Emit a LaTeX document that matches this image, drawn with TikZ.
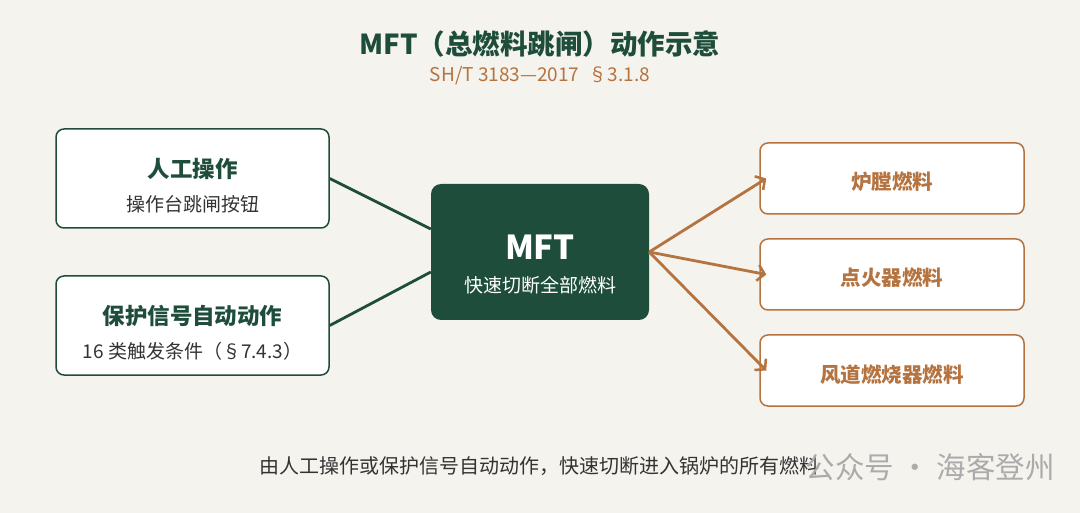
\documentclass[tikz,border=0pt]{standalone}
\usepackage{fontspec}
\setmainfont{Noto Sans CJK SC}
\usetikzlibrary{arrows.meta}
\definecolor{bg}{HTML}{F5F3EE}
\definecolor{dkgreen}{HTML}{1E4D3B}
\definecolor{rust}{HTML}{B5733F}
\definecolor{txt}{HTML}{333333}
\definecolor{wm}{HTML}{ABABAB}
\tikzset{
  leftbox/.style={draw=dkgreen,line width=1.5pt,fill=white,rounded corners=8pt,minimum width=273pt,minimum height=99pt,inner sep=0pt},
  rightbox/.style={draw=rust,line width=1.5pt,fill=white,rounded corners=8pt,minimum width=264pt,minimum height=71pt,inner sep=0pt},
  midbox/.style={fill=dkgreen,rounded corners=10pt,minimum width=218pt,minimum height=136pt,inner sep=0pt},
  gline/.style={draw=dkgreen,line width=2.8pt},
  oline/.style={draw=rust,line width=2.8pt,-{Straight Barb[length=7pt,width=16pt,line width=2.5pt]}},
  boxtitle/.style={font=\fontsize{22.5}{26}\selectfont\bfseries,text=dkgreen},
  boxsub/.style={font=\fontsize{19}{22}\selectfont,text=txt},
  rtext/.style={font=\fontsize{20.5}{24}\selectfont\bfseries,text=rust}
}
\begin{document}
\begin{tikzpicture}[x=1pt,y=-1pt]
\fill[bg] (0,0) rectangle (1080,513);
\useasboundingbox (0,0) rectangle (1080,513);
% title
\node[font=\fontsize{27.5}{32}\selectfont\bfseries,text=dkgreen] (title) at (540,44) {MFT（总燃料跳闸）动作示意};
\node[font=\fontsize{19}{22}\selectfont,text=rust] (sub) at (540,76) {SH/T 3183—2017\enspace §3.1.8};
% left boxes
\node[leftbox] (l1) at (192.5,178.5) {};
\node[boxtitle] (l1t) at (192.5,169) {人工操作};
\node[boxsub] (l1s) at (192.5,204) {操作台跳闸按钮};
\node[leftbox] (l2) at (192.5,325.5) {};
\node[boxtitle] (l2t) at (192.5,316) {保护信号自动动作};
\node[boxsub] (l2s) at (192.5,351) {16 类触发条件（§7.4.3）};
% middle
\node[midbox] (m) at (540,252) {};
\node[font=\fontsize{33}{38}\selectfont\bfseries,text=white] (mt) at (540,247) {MFT};
\node[font=\fontsize{19}{22}\selectfont,text=white] (ms) at (540,285) {快速切断全部燃料};
% right boxes
\node[rightbox] (r1) at (892,178.5) {};
\node[rtext] (r1t) at (892,182) {炉膛燃料};
\node[rightbox] (r2) at (892,274.5) {};
\node[rtext] (r2t) at (892,278) {点火器燃料};
\node[rightbox] (r3) at (892,370.5) {};
\node[rtext] (r3t) at (892,375) {风道燃烧器燃料};
% connectors
\coordinate (m1) at ([yshift=23pt]m.west);
\coordinate (m2) at ([yshift=-20pt]m.west);
\draw[gline] (l1.east) -- (m1);
\draw[gline] (l2.east) -- (m2);
\coordinate (mo) at (m.east);
\coordinate (a1) at ([xshift=7pt]r1.west);
\coordinate (a2) at ([xshift=7pt]r2.west);
\coordinate (a3) at ([xshift=7pt]r3.west);
\draw[oline] (mo) -- (a1);
\draw[oline] (mo) -- (a2);
\draw[oline] (mo) -- (a3);
% caption
\node[font=\fontsize{20}{24}\selectfont,text=txt,anchor=west] (cap) at (256,466) {由人工操作或保护信号自动动作，快速切断进入锅炉的所有燃料};
\node[font=\fontsize{29.5}{34}\selectfont,text=wm,anchor=west] (wmk) at (802,467) {公众号 · 海客登州};
\end{tikzpicture}
\end{document}
